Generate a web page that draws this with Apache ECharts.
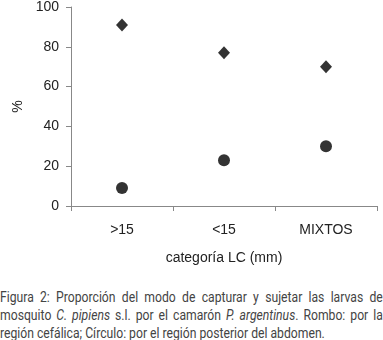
<!DOCTYPE html>
<html>
<head>
<meta charset="utf-8">
<script src="https://cdn.jsdelivr.net/npm/echarts@6/dist/echarts.min.js"></script>
<style>
  html, body { margin: 0; padding: 0; background: #fff; }
  #wrap { position: relative; width: 383px; height: 340px; overflow: hidden; }
  #chart { position: absolute; left: 0; top: 0; width: 383px; height: 270px; }
  #caption {
    position: absolute; left: 0; top: 288px; width: 440px;
    transform: scaleX(0.87); transform-origin: 0 0;
    font-family: "Roboto", sans-serif;
    font-size: 14px; line-height: 18px; color: #444;
  }
  #caption div { text-align: justify; text-align-last: justify; white-space: nowrap; }
  #caption div.ultima { text-align-last: left; }
</style>
</head>
<body>
<div id="wrap">
  <div id="chart"></div>
  <div id="caption">
    <div>Figura 2: Proporción del modo de capturar y sujetar las larvas de</div>
    <div>mosquito <i>C. pipiens</i> s.l. por el camarón <i>P. argentinus</i>. Rombo: por la</div>
    <div class="ultima">región cefálica; Círculo: por el región posterior del abdomen.</div>
  </div>
</div>
<script>
// datos
var categorias = ['>15', '<15', 'MIXTOS'];
var rombo = [91, 77, 70];    // región cefálica
var circulo = [9, 23, 30];   // región posterior del abdomen

var chart = echarts.init(document.getElementById('chart'));

var fuente = 'Arial, "Liberation Sans", sans-serif';

var option = {
  animation: false,
  grid: { left: 71, top: 6, width: 306, height: 202 },
  xAxis: {
    type: 'category',
    data: categorias,
    boundaryGap: true,
    name: 'categoría LC (mm)',
    nameLocation: 'middle',
    nameGap: 45,
    nameTextStyle: { fontFamily: fuente, fontSize: 14, color: '#222' },
    axisLine: { lineStyle: { color: '#888', width: 1 } },
    axisTick: { show: true, inside: false, length: 5, lineStyle: { color: '#888' } },
    axisLabel: { fontFamily: fuente, fontSize: 14, color: '#222', margin: 17 },
    splitLine: { show: false }
  },
  yAxis: {
    type: 'value',
    min: 0,
    max: 100,
    interval: 20,
    name: '%',
    nameLocation: 'middle',
    nameGap: 45,
    nameRotate: 90,
    nameTextStyle: { fontFamily: fuente, fontSize: 14, color: '#222' },
    axisLine: { show: true, lineStyle: { color: '#888', width: 1 } },
    axisTick: { show: true, length: 5, lineStyle: { color: '#888' } },
    axisLabel: { fontFamily: fuente, fontSize: 14, color: '#222', margin: 12 },
    splitLine: { show: false }
  },
  series: [
    {
      name: 'Rombo',
      type: 'scatter',
      data: rombo,
      symbol: 'diamond',
      symbolSize: [12, 13],
      itemStyle: { color: '#000' }
    },
    {
      name: 'Círculo',
      type: 'scatter',
      data: circulo,
      symbol: 'circle',
      symbolSize: 12,
      itemStyle: { color: '#000' }
    }
  ]
};

chart.setOption(option);
</script>
</body>
</html>
